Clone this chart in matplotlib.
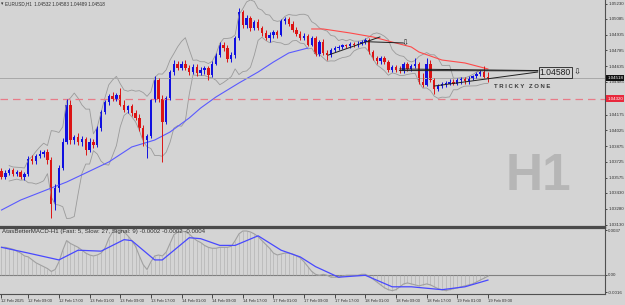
import numpy as np
import pandas as pd
import matplotlib
matplotlib.use("Agg")
from matplotlib import pyplot as plt
from matplotlib import font_manager

# ---- data ----
first_open = 1.0364
closes = [
    1.0358, 1.0362, 1.0365, 1.0361, 1.0363, 1.0358, 1.0361, 1.0375, 1.0373, 1.0378,
    1.0380, 1.0382, 1.0374, 1.0333, 1.0348, 1.0367, 1.0391, 1.0427, 1.0393, 1.0396,
    1.0391, 1.0394, 1.0384, 1.0391, 1.0389, 1.0405, 1.0420, 1.0429, 1.0435, 1.0432,
    1.0436, 1.0427, 1.0422, 1.0426, 1.0419, 1.0414, 1.0405, 1.0393, 1.0397, 1.0431,
    1.0450, 1.0432, 1.0410, 1.0433, 1.0458, 1.0466, 1.0462, 1.0466, 1.0462, 1.0458,
    1.0463, 1.0457, 1.0460, 1.0462, 1.0455, 1.0466, 1.0474, 1.0484, 1.0481, 1.0470,
    1.0474, 1.0490, 1.0515, 1.0503, 1.0509, 1.0500, 1.0505, 1.0500, 1.0495, 1.0490,
    1.0493, 1.0496, 1.0493, 1.0506, 1.0508, 1.0504, 1.0498, 1.0494, 1.0490, 1.0492,
    1.0484, 1.0490, 1.0475, 1.0486, 1.0476, 1.0474, 1.0479, 1.0481, 1.0482, 1.0484,
    1.0483, 1.0485, 1.0484, 1.0485, 1.0486, 1.0488, 1.0477, 1.0471, 1.0468, 1.0471,
    1.0467, 1.0460, 1.0463, 1.0460, 1.0459, 1.0466, 1.0461, 1.0464, 1.0466, 1.0448,
    1.0446, 1.0466, 1.0450, 1.0442, 1.0445, 1.0447, 1.0447, 1.0448, 1.0447, 1.0450,
    1.0451, 1.0449, 1.0452, 1.0454, 1.0456, 1.0458, 1.04532, 1.04518,
]
highs = [
    1.0367, 1.0365, 1.0367, 1.0367, 1.0365, 1.0365, 1.0363, 1.0378, 1.0379, 1.0380,
    1.0384, 1.0384, 1.0385, 1.0377, 1.0352, 1.0370, 1.0395, 1.0432, 1.0431, 1.0398,
    1.0400, 1.0397, 1.0396, 1.0395, 1.0394, 1.0407, 1.0422, 1.0431, 1.0437, 1.0439,
    1.0438, 1.0443, 1.0431, 1.0427, 1.0428, 1.0422, 1.0418, 1.0408, 1.0399, 1.0432,
    1.0454, 1.0452, 1.0436, 1.0435, 1.0460, 1.0469, 1.0468, 1.0468, 1.0469, 1.0465,
    1.0466, 1.0466, 1.0463, 1.0464, 1.0464, 1.0468, 1.0476, 1.0486, 1.0486, 1.0484,
    1.0477, 1.0492, 1.0519, 1.0517, 1.0512, 1.0511, 1.0507, 1.0508, 1.0502, 1.0498,
    1.0496, 1.0498, 1.0498, 1.0508, 1.0510, 1.0510, 1.0506, 1.0501, 1.0497, 1.0495,
    1.0494, 1.0492, 1.0492, 1.0488, 1.0489, 1.0479, 1.0481, 1.0483, 1.0484, 1.0485,
    1.0485, 1.0486, 1.0486, 1.0487, 1.0488, 1.0490, 1.0490, 1.0479, 1.0473, 1.0473,
    1.0473, 1.0469, 1.0465, 1.0465, 1.0464, 1.0467, 1.0467, 1.0466, 1.0471, 1.0467,
    1.0457, 1.0471, 1.0469, 1.0452, 1.0447, 1.0448, 1.0449, 1.0451, 1.0451, 1.0452,
    1.0453, 1.0453, 1.0454, 1.0455, 1.0458, 1.0460, 1.0464, 1.04583,
]
lows = [
    1.0356, 1.0356, 1.0360, 1.0359, 1.0359, 1.0356, 1.0355, 1.0359, 1.0371, 1.0371,
    1.0376, 1.0377, 1.0371, 1.0319, 1.0327, 1.0344, 1.0365, 1.0390, 1.0390, 1.0390,
    1.0389, 1.0388, 1.0379, 1.0382, 1.0386, 1.0387, 1.0402, 1.0418, 1.0427, 1.0430,
    1.0430, 1.0426, 1.0420, 1.0419, 1.0416, 1.0412, 1.0402, 1.0388, 1.0376, 1.0395,
    1.0429, 1.0429, 1.0372, 1.0409, 1.0431, 1.0455, 1.0460, 1.0460, 1.0460, 1.0455,
    1.0456, 1.0454, 1.0455, 1.0456, 1.0450, 1.0453, 1.0465, 1.0472, 1.0478, 1.0467,
    1.0467, 1.0471, 1.0488, 1.0500, 1.0500, 1.0497, 1.0498, 1.0498, 1.0492, 1.0488,
    1.0486, 1.0490, 1.0490, 1.0492, 1.0504, 1.0502, 1.0496, 1.0492, 1.0488, 1.0488,
    1.0483, 1.0483, 1.0473, 1.0473, 1.0474, 1.0469, 1.0472, 1.0477, 1.0479, 1.0480,
    1.0481, 1.0481, 1.0482, 1.0482, 1.0484, 1.0485, 1.0475, 1.0469, 1.0466, 1.0466,
    1.0466, 1.0458, 1.0458, 1.0458, 1.0457, 1.0457, 1.0459, 1.0459, 1.0462, 1.0447,
    1.0444, 1.0445, 1.0448, 1.0437, 1.0440, 1.0443, 1.0444, 1.0446, 1.0446, 1.0446,
    1.0447, 1.0447, 1.0447, 1.0450, 1.0452, 1.0454, 1.0452, 1.04489,
]

# moving averages (bar index, price) as seen on the chart
ma_blue_bars = [0, 5, 13, 17, 22, 28, 34, 40, 44, 49, 52, 56, 62, 67, 71, 75, 80]
ma_blue = [1.03268, 1.03363, 1.03477, 1.03534, 1.03620, 1.03724, 1.03867, 1.03933, 1.04009,
           1.04142, 1.04237, 1.04342, 1.04475, 1.04579, 1.04674, 1.04760, 1.04807]
ma_red_bars = [81, 84, 91, 97, 102, 107, 109, 115, 121, 127]
ma_red = [1.04988, 1.04988, 1.04950, 1.04912, 1.04864, 1.04817, 1.04769, 1.04693, 1.04665, 1.04608]

# MACD (fast 5, slow 27, signal 9)
macd_main = [
    0.00229, 0.00229, 0.00221, 0.00213, 0.00197, 0.00181, 0.00157, 0.00149, 0.00124, 0.00100,
    0.00084, 0.00068, 0.00052, 0.00028, 0.00044, 0.00108, 0.00205, 0.00285, 0.00261, 0.00245,
    0.00229, 0.00205, 0.00181, 0.00165, 0.00157, 0.00165, 0.00181, 0.00221, 0.00301, 0.00357,
    0.00381, 0.00381, 0.00357, 0.00325, 0.00285, 0.00237, 0.00157, 0.00084, 0.00044, 0.00108,
    0.00157, 0.00165, 0.00157, 0.00189, 0.00261, 0.00333, 0.00357, 0.00365, 0.00357, 0.00341,
    0.00309, 0.00285, 0.00269, 0.00245, 0.00229, 0.00221, 0.00221, 0.00229, 0.00229, 0.00229,
    0.00237, 0.00285, 0.00341, 0.00365, 0.00365, 0.00357, 0.00341, 0.00317, 0.00285, 0.00253,
    0.00221, 0.00181, 0.00165, 0.00173, 0.00181, 0.00181, 0.00173, 0.00157, 0.00141, 0.00108,
    0.00068, 0.00028, 0.00004, -0.00004, 0.00004, -0.00004, -0.00020, -0.00020, -0.00020, -0.00012,
    -0.00004, -0.00004, -0.00004, -0.00004, 0.00004, 0.00004, -0.00012, -0.00036, -0.00060, -0.00084,
    -0.00108, -0.00124, -0.00132, -0.00124, -0.00100, -0.00076, -0.00068, -0.00076, -0.00084, -0.00092,
    -0.00084, -0.00076, -0.00084, -0.00100, -0.00116, -0.00124, -0.00132, -0.00124, -0.00116, -0.00108,
    -0.00100, -0.00092, -0.00084, -0.00076, -0.00060, -0.00044, -0.00028, -0.00012,
]
signal_bars = [0, 7, 15, 20, 26, 32, 34, 40, 42, 49, 52, 57, 61, 67, 73, 78, 82, 88, 95, 102,
               107, 115, 121, 127]
signal = [0.00229, 0.00181, 0.00124, 0.00205, 0.00197, 0.00293, 0.00285, 0.00124, 0.00124,
          0.00309, 0.00301, 0.00245, 0.00245, 0.00325, 0.00205, 0.00149, 0.00068, -0.00020,
          -0.00004, -0.00100, -0.00100, -0.00124, -0.00100, -0.00044]

time_tick_bars = [0, 7, 15, 23, 31, 39, 47, 55, 63, 71, 79, 87, 95, 103, 111, 119, 127]
time_labels = ["12 Feb 2025", "12 Feb 09:00", "12 Feb 17:00", "13 Feb 01:00", "13 Feb 09:00",
               "13 Feb 17:00", "14 Feb 01:00", "14 Feb 09:00", "14 Feb 17:00", "17 Feb 01:00",
               "17 Feb 09:00", "17 Feb 17:00", "18 Feb 01:00", "18 Feb 09:00", "18 Feb 17:00",
               "19 Feb 01:00", "19 Feb 09:00"]
price_ticks = [1.05230, 1.05085, 1.04935, 1.04785, 1.04635, 1.04485, 1.04175, 1.04025,
               1.03875, 1.03725, 1.03575, 1.03430, 1.03280, 1.03130]

bid = 1.04518
alert_level = 1.04320
label_level = 1.04580

# drawn objects (bar index, price)
rising_line = ([85.3, 98.8], [1.04740, 1.04912])
flat_line = ([95.4, 104.9], [1.04867, 1.04855])
tri_upper = ([104, 140], [1.04608, 1.04593])
tri_lower = ([113, 140], [1.04446, 1.04579])

BG = "#d4d4d4"
UP = "#1010e0"
DN = "#dc1414"
TXT = "#303030"
W, H = 625, 305

try:
    font_manager.findfont("Liberation Sans Narrow", fallback_to_default=False)
    NARROW, t_size = "Liberation Sans Narrow", 3.4
except ValueError:
    NARROW, t_size = "Liberation Sans", 3.0
plt.rcParams["font.family"] = ["Liberation Sans", "DejaVu Sans"]


def fx(px):
    return px / W


def fy(py):
    return 1 - py / H


closes = np.array(closes)
opens = np.concatenate([[first_open], closes[:-1]])
highs = np.maximum(np.array(highs), np.maximum(opens, closes))
lows = np.minimum(np.array(lows), np.minimum(opens, closes))
bars = np.arange(len(closes))

fig = plt.figure(figsize=(6.25, 3.05), dpi=100)
fig.patch.set_facecolor(BG)
ax = fig.add_axes([0, fy(226.5), fx(605), 226.5 / H])
mx = fig.add_axes([0, fy(294), fx(605), 66 / H])

xlim = (-1.5 / 3.83, (605 - 1.5) / 3.83)

# ---- main price panel ----
ax.set_facecolor(BG)
ax.set_xlim(*xlim)
ax.set_ylim(1.05230 - 223 * 0.000095, 1.05230 + 3.5 * 0.000095)

# band envelope from the closes
s = pd.Series(closes)
mid = s.rolling(7, min_periods=3).mean()
sd = s.rolling(7, min_periods=3).std()
ax.plot(bars, mid + 1.8 * sd + 0.0001, color="#9a9a9a", lw=0.6)
ax.plot(bars, mid - 1.8 * sd - 0.0001, color="#9a9a9a", lw=0.6)

ax.plot(ma_blue_bars, ma_blue, color="#5a5aff", lw=0.8)
ax.plot(ma_red_bars, ma_red, color="#ff4a4a", lw=0.8)

ax.axhline(bid, color="#a8a8a8", lw=0.7)
ax.axhline(alert_level, color="#e87c88", lw=0.9, dashes=(6, 4))

up = closes >= opens
colors = np.where(up, UP, DN)
ax.vlines(bars, lows, highs, colors=colors, lw=0.7)
body = np.where(np.abs(closes - opens) < 0.00002, 0.00002, closes - opens)
ax.bar(bars, body, bottom=opens, width=0.62, color=colors, linewidth=0)

for xs, ys in [rising_line, flat_line, tri_upper, tri_lower]:
    ax.plot(xs, ys, color="#202020", lw=0.7)
ax.plot([104, 140], [1.04593, 1.04590], color="#202020", lw=0.7)

ax.yaxis.tick_right()
ax.set_yticks(price_ticks)
ax.set_yticklabels([f"{p:.5f}" for p in price_ticks])
ax.tick_params(axis="y", labelsize=3.2, length=1.5, width=0.6, pad=0.8, colors=TXT)
ax.set_xticks([])
for sp in ["left", "top"]:
    ax.spines[sp].set_visible(False)
ax.spines["right"].set_color("#505050")
ax.spines["right"].set_linewidth(0.8)
ax.spines["bottom"].set_color("#4a4a4a")
ax.spines["bottom"].set_linewidth(1.6)

# ---- MACD panel ----
mx.set_facecolor(BG)
mx.set_xlim(*xlim)
mx.set_ylim(-0.0016, 0.0039)
mx.axhline(0, color="#808080", lw=0.8)
mx.vlines(bars, 0, macd_main, colors="#b0b0b0", lw=0.45)
mx.plot(bars, macd_main, color="#a0a0a0", lw=0.8)
mx.plot(signal_bars, signal, color="#4848ff", lw=0.9)
mx.yaxis.tick_right()
mx.set_yticks([-0.00145, 0, 0.0037])
mx.set_yticklabels(["-0.0016", "0.00", "0.0037"])
mx.tick_params(axis="y", labelsize=3.2, length=1.5, width=0.6, pad=0.8, colors=TXT)
mx.set_xticks(time_tick_bars)
mx.set_xticklabels(time_labels, family=NARROW)
mx.tick_params(axis="x", labelsize=t_size, length=3, width=0.6, pad=0.5, colors=TXT)
for lab in mx.get_xticklabels():
    lab.set_ha("left")
mx.spines["left"].set_visible(False)
mx.spines["top"].set_color("#4a4a4a")
mx.spines["top"].set_linewidth(1.6)
mx.spines["bottom"].set_color("#505050")
mx.spines["right"].set_color("#505050")
for sp in ["bottom", "right"]:
    mx.spines[sp].set_linewidth(0.8)

# ---- texts ----
fig.text(fx(1), fy(4), "▾", fontsize=3.4, color=TXT, va="center", family="DejaVu Sans")
fig.text(fx(5), fy(4), "EURUSD,H1  1.04532 1.04583 1.04489 1.04518", fontsize=3.3,
         color=TXT, va="center")
fig.text(fx(2), fy(231.5), "AtasBetterMACD-H1 (Fast: 5, Slow: 27, Signal: 9) -0.0002 -0.0002 -0.0004",
         fontsize=4.4, color=TXT, va="center")
fig.text(fx(538), fy(177), "H1", fontsize=37, fontweight="bold",
         color="#b6b6b6", ha="center", va="center")
fig.text(fx(522.5), fy(86.5), "T R I C K Y   Z O N E", fontsize=4.3, fontweight="bold",
         color="#3a3a3a", ha="center", va="center")
fig.text(fx(555.5), fy(72.5), f"{label_level:.5f}", fontsize=6.2, color="#202020",
         ha="center", va="center",
         bbox=dict(boxstyle="square,pad=0.15", fc=BG, ec="#202020", lw=0.6))
fig.text(fx(577), fy(72.5), "⇩", fontsize=6, color="#202020", ha="center", va="center",
         family="DejaVu Sans")
fig.text(fx(405), fy(43), "⇩", fontsize=6, color="#202020", ha="center", va="center",
         family="DejaVu Sans")
fig.text(fx(607.5), fy(78.3), f"{bid:.5f}", fontsize=3.2, color="white", va="center",
         bbox=dict(boxstyle="square,pad=0.25", fc="#101010", ec="none"))
fig.text(fx(607.5), fy(98.6), f"{alert_level:.5f}", fontsize=3.2, color="white", va="center",
         bbox=dict(boxstyle="square,pad=0.25", fc="#e8283c", ec="none"))

fig.savefig("out.png", dpi=100, facecolor=BG)
